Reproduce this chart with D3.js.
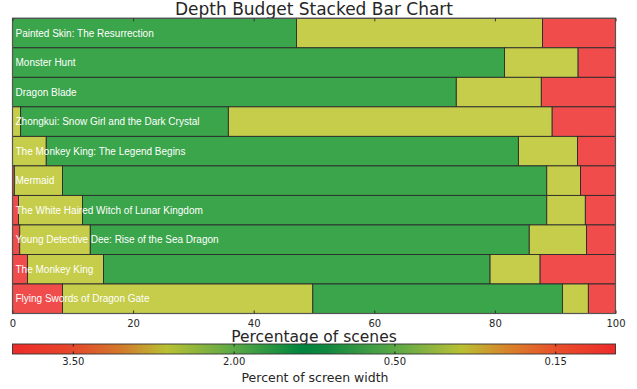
<!DOCTYPE html>
<html>
<head>
<meta charset="utf-8">
<script src="https://cdn.jsdelivr.net/npm/d3@7"></script>
<style>
  body { margin: 0; background: #fff; }
  text { font-family: "DejaVu Sans", sans-serif; fill: #262626; }
  .bar-label { font-family: "Liberation Sans", Arial, sans-serif; font-size: 10px; fill: #fff; }
</style>
</head>
<body>
<svg id="chart" width="637" height="389"></svg>
<script>
const films = [
  "Painted Skin: The Resurrection",
  "Monster Hunt",
  "Dragon Blade",
  "Zhongkui: Snow Girl and the Dark Crystal",
  "The Monkey King: The Legend Begins",
  "Mermaid",
  "The White Haired Witch of Lunar Kingdom",
  "Young Detective Dee: Rise of the Sea Dragon",
  "The Monkey King",
  "Flying Swords of Dragon Gate"
];
// segment widths (percentage of scenes) in stacking order, with their depth class
const segments = [
  [["g", 47.1], ["y", 40.8], ["r", 12.1]],
  [["g", 81.6], ["y", 12.2], ["r", 6.2]],
  [["g", 73.6], ["y", 14.1], ["r", 12.3]],
  [["y", 1.35], ["g", 34.45], ["y", 53.7], ["r", 10.5]],
  [["y", 5.6], ["g", 78.3], ["y", 9.8], ["r", 6.3]],
  [["r", 0.3], ["y", 8.0], ["g", 80.3], ["y", 5.6], ["r", 5.8]],
  [["r", 1.0], ["y", 10.6], ["g", 77.0], ["y", 6.4], ["r", 5.0]],
  [["r", 1.2], ["y", 11.7], ["g", 72.8], ["y", 9.5], ["r", 4.8]],
  [["r", 2.5], ["y", 12.6], ["g", 64.1], ["y", 8.3], ["r", 12.5]],
  [["r", 8.3], ["y", 41.5], ["g", 41.4], ["y", 4.3], ["r", 4.5]]
];
const xTicks = [0, 20, 40, 60, 80, 100];
const cbarTicks = ["3.50", "2.00", "0.50", "0.15"];
const cbarStops = [
  [0, "#ee2a2a"], [0.1, "#e5482a"], [0.18, "#d27a2c"], [0.255, "#b9c033"],
  [0.33, "#7bb041"], [0.367, "#5aa846"], [0.48, "#00843e"], [0.52, "#10873f"],
  [0.633, "#5aa846"], [0.71, "#9cb83c"], [0.745, "#b9c033"], [0.82, "#d8842c"],
  [0.9, "#e8502a"], [1, "#ee2a2a"]
];

const segColor = { g: "#3aa54a", y: "#c6cd4a", r: "#f04c4c" };

const svg = d3.select("#chart");
const plotLeft = 12.5, plotRight = 615.5, plotTop = 18.3, plotBottom = 313.5;

const x = d3.scaleLinear().domain([0, 100]).range([plotLeft, plotRight]);
const y = d3.scaleBand().domain(films).range([plotTop, plotBottom]).padding(0);

svg.append("text").attr("x", 314).attr("y", 15).attr("text-anchor", "middle")
  .style("font-size", "17px").text("Depth Budget Stacked Bar Chart");

const rows = films.map((f, i) => {
  let acc = 0;
  return segments[i].map(([c, v]) => {
    const s = { film: f, cls: c, x0: acc, x1: acc + v };
    acc += v;
    return s;
  });
}).flat();

svg.append("g").selectAll("rect").data(rows).join("rect")
  .attr("x", d => x(d.x0))
  .attr("y", d => y(d.film))
  .attr("width", d => x(d.x1) - x(d.x0))
  .attr("height", y.bandwidth())
  .attr("fill", d => segColor[d.cls])
  .attr("stroke", "#2b2b2b")
  .attr("stroke-width", 0.9);

svg.append("g").selectAll("text").data(films).join("text")
  .attr("class", "bar-label")
  .attr("x", plotLeft + 3)
  .attr("y", d => y(d) + y.bandwidth() / 2)
  .attr("dy", "0.35em")
  .text(d => d);

svg.append("rect").attr("x", plotLeft).attr("y", plotTop)
  .attr("width", plotRight - plotLeft).attr("height", plotBottom - plotTop)
  .attr("fill", "none").attr("stroke", "#555").attr("stroke-width", 1.2);

const xAxis = svg.append("g").attr("transform", `translate(0,${plotBottom})`)
  .call(d3.axisBottom(x).tickValues(xTicks).tickSize(-3).tickPadding(6));
xAxis.select(".domain").remove();
xAxis.selectAll("line").attr("stroke", "#333");
xAxis.selectAll("text").style("font-size", "10px").style("font-family", "DejaVu Sans").attr("fill", "#262626");

const xTop = svg.append("g").attr("transform", `translate(0,${plotTop})`)
  .call(d3.axisTop(x).tickValues(xTicks).tickSize(-3).tickFormat(""));
xTop.select(".domain").remove();
xTop.selectAll("line").attr("stroke", "#333");

svg.append("text").attr("x", 314).attr("y", 342).attr("text-anchor", "middle")
  .style("font-size", "15.5px").text("Percentage of scenes");

// colour bar
const defs = svg.append("defs");
const grad = defs.append("linearGradient").attr("id", "cbar").attr("x1", "0%").attr("x2", "100%");
grad.selectAll("stop").data(cbarStops).join("stop")
  .attr("offset", d => d[0]).attr("stop-color", d => d[1]);

const cTop = 344, cH = 10;
svg.append("rect").attr("x", plotLeft).attr("y", cTop).attr("width", plotRight - plotLeft).attr("height", cH)
  .attr("fill", "url(#cbar)").attr("stroke", "#333").attr("stroke-width", 0.9);

const cx = d3.scalePoint().domain(cbarTicks).range([x(10), x(90)]);
const cAxis = svg.append("g").attr("transform", `translate(0,${cTop + cH})`)
  .call(d3.axisBottom(cx).tickSize(-2.5).tickPadding(4));
cAxis.select(".domain").remove();
cAxis.selectAll("line").attr("stroke", "#222");
cAxis.selectAll("text").style("font-size", "10px").style("font-family", "DejaVu Sans").attr("fill", "#262626");
const cAxisTop = svg.append("g").attr("transform", `translate(0,${cTop})`)
  .call(d3.axisTop(cx).tickSize(-2.5).tickFormat(""));
cAxisTop.select(".domain").remove();
cAxisTop.selectAll("line").attr("stroke", "#222");

svg.append("text").attr("x", 315).attr("y", 382).attr("text-anchor", "middle")
  .style("font-size", "12.5px").text("Percent of screen width");
</script>
</body>
</html>
